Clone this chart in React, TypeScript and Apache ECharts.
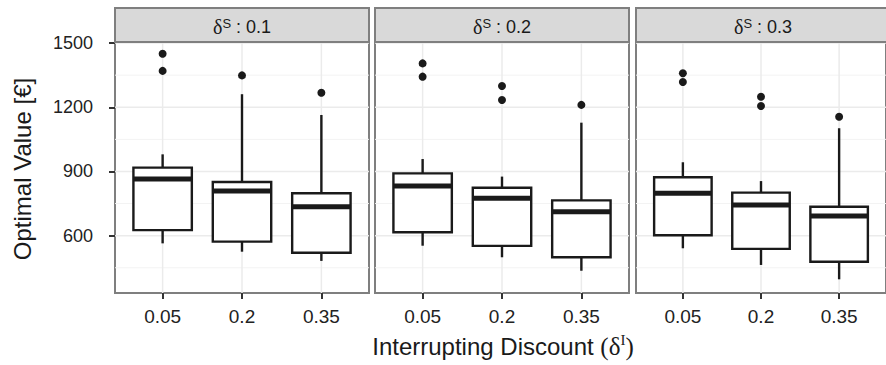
import React, { useEffect, useRef } from 'react';
import * as echarts from 'echarts';

// ---------- data ----------
const discountLabels = ['0.05', '0.2', '0.35'];
const stripValues = ['0.1', '0.2', '0.3'];
const yTickValues = [600, 900, 1200, 1500];
const yMinorValues = [450, 750, 1050, 1350];

// [lower whisker, Q1, median, Q3, upper whisker] for discounts 0.05, 0.2, 0.35
const boxesS01 = [
  [564, 626, 865, 918, 980],
  [525, 572, 809, 851, 1261],
  [482, 520, 735, 798, 1164],
];
const boxesS02 = [
  [553, 616, 832, 891, 958],
  [499, 552, 775, 824, 876],
  [436, 499, 712, 765, 1128],
];
const boxesS03 = [
  [541, 602, 798, 873, 943],
  [463, 538, 743, 801, 855],
  [396, 478, 692, 735, 1102],
];
const outliersS01 = [[1450, 1370], [1349], [1268]];
const outliersS02 = [[1405, 1343], [1299, 1234], [1211]];
const outliersS03 = [[1359, 1318], [1249, 1206], [1156]];

const panelBoxes = [boxesS01, boxesS02, boxesS03];
const panelOutliers = [outliersS01, outliersS02, outliersS03];

// ---------- layout ----------
const FONT = "'Liberation Sans', Arial, Helvetica, sans-serif";
const SERIF = "'Liberation Serif', 'DejaVu Serif', serif";
const PANEL_LEFTS = [115, 375, 636];
const PANEL_W = 254;
const PANEL_TOP = 42;
const PANEL_H = 251;
const STRIP_TOP = 8;
const Y_MIN = 332;
const Y_MAX = 1505;
const X_MIN = 0.4;
const X_MAX = 3.6;
const BOX_HALF = 0.368;
const INK = '#1a1a1a';
const BORDER = '#7f7f7f';

export default function App() {
  const ref = useRef<HTMLDivElement>(null);

  useEffect(() => {
    if (!ref.current) return;
    const chart = echarts.init(ref.current, undefined, { renderer: 'svg' });

    const grids: any[] = [];
    const xAxes: any[] = [];
    const yAxes: any[] = [];
    const series: any[] = [];
    const graphics: any[] = [];

    PANEL_LEFTS.forEach((left, i) => {
      grids.push({
        left,
        top: PANEL_TOP,
        width: PANEL_W,
        height: PANEL_H,
        show: true,
        backgroundColor: '#ffffff',
        borderColor: BORDER,
        borderWidth: 2,
        containLabel: false,
      });
      xAxes.push({
        type: 'value',
        gridIndex: i,
        min: X_MIN,
        max: X_MAX,
        axisLine: { show: false },
        splitLine: { show: false },
        axisTick: {
          show: true,
          customValues: [1, 2, 3],
          length: 6,
          lineStyle: { color: '#333333', width: 2 },
        },
        axisLabel: {
          show: true,
          customValues: [1, 2, 3],
          formatter: (v: number) => discountLabels[Math.round(v) - 1] ?? '',
          fontSize: 19,
          color: '#222222',
          margin: 14,
          fontFamily: FONT,
        },
      });
      yAxes.push({
        type: 'value',
        gridIndex: i,
        min: Y_MIN,
        max: Y_MAX,
        axisLine: { show: false },
        splitLine: { show: false },
        axisTick: {
          show: i === 0,
          customValues: yTickValues,
          length: 6,
          lineStyle: { color: '#333333', width: 2 },
        },
        axisLabel: {
          show: i === 0,
          customValues: yTickValues,
          formatter: (v: number) => String(Math.round(v)),
          fontSize: 18,
          color: '#222222',
          margin: 22,
          fontFamily: FONT,
        },
      });

      // grid lines
      const gridData: number[][] = [
        ...yTickValues.map((v) => [1, v, 0]),
        ...yMinorValues.map((v) => [1, v, 1]),
        ...[1, 2, 3].map((x) => [x, 1000, 2]),
      ];
      series.push({
        type: 'custom',
        xAxisIndex: i,
        yAxisIndex: i,
        silent: true,
        z: 1,
        data: gridData,
        encode: { x: 0, y: 1 },
        renderItem: (params: any, api: any) => {
          const cs = params.coordSys;
          const kind = api.value(2);
          if (kind === 2) {
            const px = api.coord([api.value(0), 1000])[0];
            return {
              type: 'line',
              shape: { x1: px, y1: cs.y, x2: px, y2: cs.y + cs.height },
              style: { stroke: '#ebebeb', lineWidth: 1.5 },
            };
          }
          const py = api.coord([1, api.value(1)])[1];
          return {
            type: 'line',
            shape: { x1: cs.x, y1: py, x2: cs.x + cs.width, y2: py },
            style: { stroke: kind === 0 ? '#ebebeb' : '#f3f3f3', lineWidth: kind === 0 ? 1.5 : 1 },
          };
        },
      });

      // boxes
      series.push({
        type: 'custom',
        xAxisIndex: i,
        yAxisIndex: i,
        z: 3,
        data: panelBoxes[i].map((b, j) => [j + 1, ...b]),
        encode: { x: 0, y: [1, 2, 3, 4, 5] },
        renderItem: (params: any, api: any) => {
          const x = api.value(0);
          const lo = api.coord([x, api.value(1)]);
          const q1 = api.coord([x, api.value(2)]);
          const med = api.coord([x, api.value(3)]);
          const q3 = api.coord([x, api.value(4)]);
          const hi = api.coord([x, api.value(5)]);
          const l = api.coord([x - BOX_HALF, api.value(2)])[0];
          const r = api.coord([x + BOX_HALF, api.value(2)])[0];
          const ls = { stroke: INK, lineWidth: 2.4 };
          return {
            type: 'group',
            children: [
              { type: 'line', shape: { x1: lo[0], y1: lo[1], x2: q1[0], y2: q1[1] }, style: ls },
              { type: 'line', shape: { x1: q3[0], y1: q3[1], x2: hi[0], y2: hi[1] }, style: ls },
              {
                type: 'rect',
                shape: { x: l, y: q3[1], width: r - l, height: q1[1] - q3[1] },
                style: { fill: '#ffffff', stroke: INK, lineWidth: 2.4 },
              },
              { type: 'line', shape: { x1: l, y1: med[1], x2: r, y2: med[1] }, style: { stroke: INK, lineWidth: 5 } },
            ],
          };
        },
      });

      // outliers
      series.push({
        type: 'scatter',
        xAxisIndex: i,
        yAxisIndex: i,
        z: 4,
        symbol: 'circle',
        symbolSize: 8,
        itemStyle: { color: INK, opacity: 1 },
        data: panelOutliers[i].flatMap((arr, j) => arr.map((v) => [j + 1, v])),
      });

      // strip
      graphics.push({
        type: 'rect',
        shape: { x: left, y: STRIP_TOP, width: PANEL_W, height: PANEL_TOP - STRIP_TOP },
        style: { fill: '#d9d9d9', stroke: BORDER, lineWidth: 2 },
        z: 10,
      });
      graphics.push({
        type: 'text',
        x: left + PANEL_W / 2,
        y: 27,
        z: 11,
        style: {
          text: `{d|δ}{s|S}{t| : ${stripValues[i]}}`,
          align: 'center',
          verticalAlign: 'middle',
          fill: '#1a1a1a',
          rich: {
            d: { fontFamily: SERIF, fontSize: 20, lineHeight: 20, fill: '#1a1a1a' },
            s: { fontFamily: FONT, fontSize: 13, lineHeight: 12, verticalAlign: 'top', fill: '#1a1a1a' },
            t: { fontFamily: FONT, fontSize: 18, lineHeight: 20, fill: '#1a1a1a' },
          },
        },
      });
    });

    // axis titles
    graphics.push({
      type: 'text',
      x: 503,
      y: 346,
      z: 11,
      style: {
        text: '{a|Interrupting Discount }{p|(δ}{s|I}{p|)}',
        align: 'center',
        verticalAlign: 'middle',
        fill: '#1a1a1a',
        rich: {
          a: { fontFamily: FONT, fontSize: 24, lineHeight: 28, fill: '#1a1a1a' },
          p: { fontFamily: SERIF, fontSize: 25, lineHeight: 28, fill: '#1a1a1a' },
          s: { fontFamily: SERIF, fontSize: 15, lineHeight: 14, verticalAlign: 'top', fill: '#1a1a1a' },
        },
      },
    });
    graphics.push({
      type: 'text',
      x: 22,
      y: 169,
      rotation: Math.PI / 2,
      z: 11,
      style: {
        text: 'Optimal Value [€]',
        align: 'center',
        verticalAlign: 'middle',
        fontFamily: FONT,
        fontSize: 24,
        fill: '#1a1a1a',
      },
    });

    chart.setOption({
      animation: false,
      backgroundColor: '#ffffff',
      grid: grids,
      xAxis: xAxes,
      yAxis: yAxes,
      series,
      graphic: graphics,
    });

    return () => {
      chart.dispose();
    };
  }, []);

  return (
    <div
      ref={ref}
      style={{ position: 'absolute', left: 0, top: 0, width: 886, height: 365 }}
    />
  );
}
